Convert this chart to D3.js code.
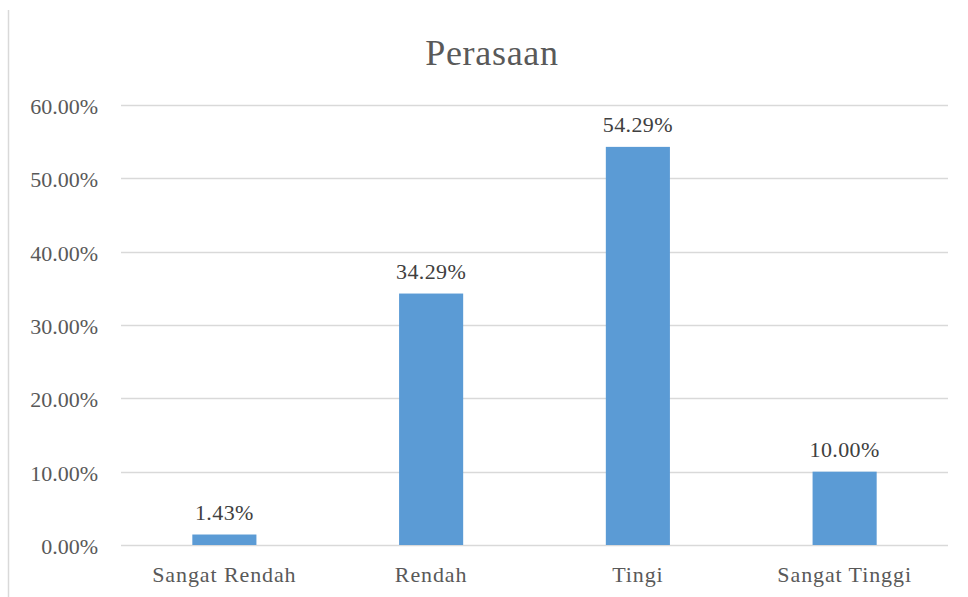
<!DOCTYPE html>
<html><head><meta charset="utf-8">
<script src="https://d3js.org/d3.v7.min.js"></script>
<style>body{margin:0;background:#fff}svg{display:block}</style>
</head><body><div id="c"></div>
<script>
const categories = ["Sangat Rendah", "Rendah", "Tingi", "Sangat Tinggi"];
const values = [1.43, 34.29, 54.29, 10.00];
const tickValues = [0, 10, 20, 30, 40, 50, 60];
const title = "Perasaan";

const W = 968, H = 597;
const svg = d3.select("#c").append("svg").attr("width", W).attr("height", H);
const font = "'Liberation Serif','Times New Roman',serif";
const textColor = "#595959";

// left border
svg.append("line").attr("x1", 8.5).attr("x2", 8.5).attr("y1", 10).attr("y2", H)
  .attr("stroke", "#d9d9d9").attr("stroke-width", 1.5);

const x = d3.scaleBand().domain(categories).range([121, 948]).paddingInner(0.69).paddingOuter(0.345);
const y = d3.scaleLinear().domain([0, 60]).range([545, 105]);

// gridlines
svg.append("g").selectAll("line").data(tickValues).join("line")
  .attr("x1", 121).attr("x2", 948)
  .attr("y1", d => Math.round(y(d)) + 0.5).attr("y2", d => Math.round(y(d)) + 0.5)
  .attr("stroke", "#d9d9d9").attr("stroke-width", 1.3);

// y tick labels
svg.append("g").selectAll("text").data(tickValues).join("text")
  .attr("x", 98).attr("y", d => y(d) + 9)
  .attr("text-anchor", "end").attr("font-family", font).attr("font-size", 22)
  .attr("fill", textColor).text(d => d.toFixed(2) + "%");

// bars
svg.append("g").selectAll("rect").data(values).join("rect")
  .attr("x", (d, i) => x(categories[i])).attr("width", x.bandwidth())
  .attr("y", d => y(d)).attr("height", d => y(0) - y(d))
  .attr("fill", "#5B9BD5");

// data labels
svg.append("g").selectAll("text").data(values).join("text")
  .attr("x", (d, i) => x(categories[i]) + x.bandwidth() / 2)
  .attr("y", d => y(d) - 15)
  .attr("text-anchor", "middle").attr("font-family", font).attr("font-size", 22)
  .attr("letter-spacing", 0.4)
  .attr("fill", "#404040").text(d => d.toFixed(2) + "%");

// x labels
svg.append("g").selectAll("text").data(categories).join("text")
  .attr("x", d => x(d) + x.bandwidth() / 2).attr("y", 582)
  .attr("text-anchor", "middle").attr("font-family", font).attr("font-size", 22)
  .attr("letter-spacing", 0.9)
  .attr("fill", textColor).text(d => d);

// title
svg.append("text").attr("x", 492).attr("y", 65).attr("text-anchor", "middle")
  .attr("font-family", font).attr("font-size", 36).attr("letter-spacing", 0.7)
  .attr("fill", textColor).text(title);
</script></body></html>
